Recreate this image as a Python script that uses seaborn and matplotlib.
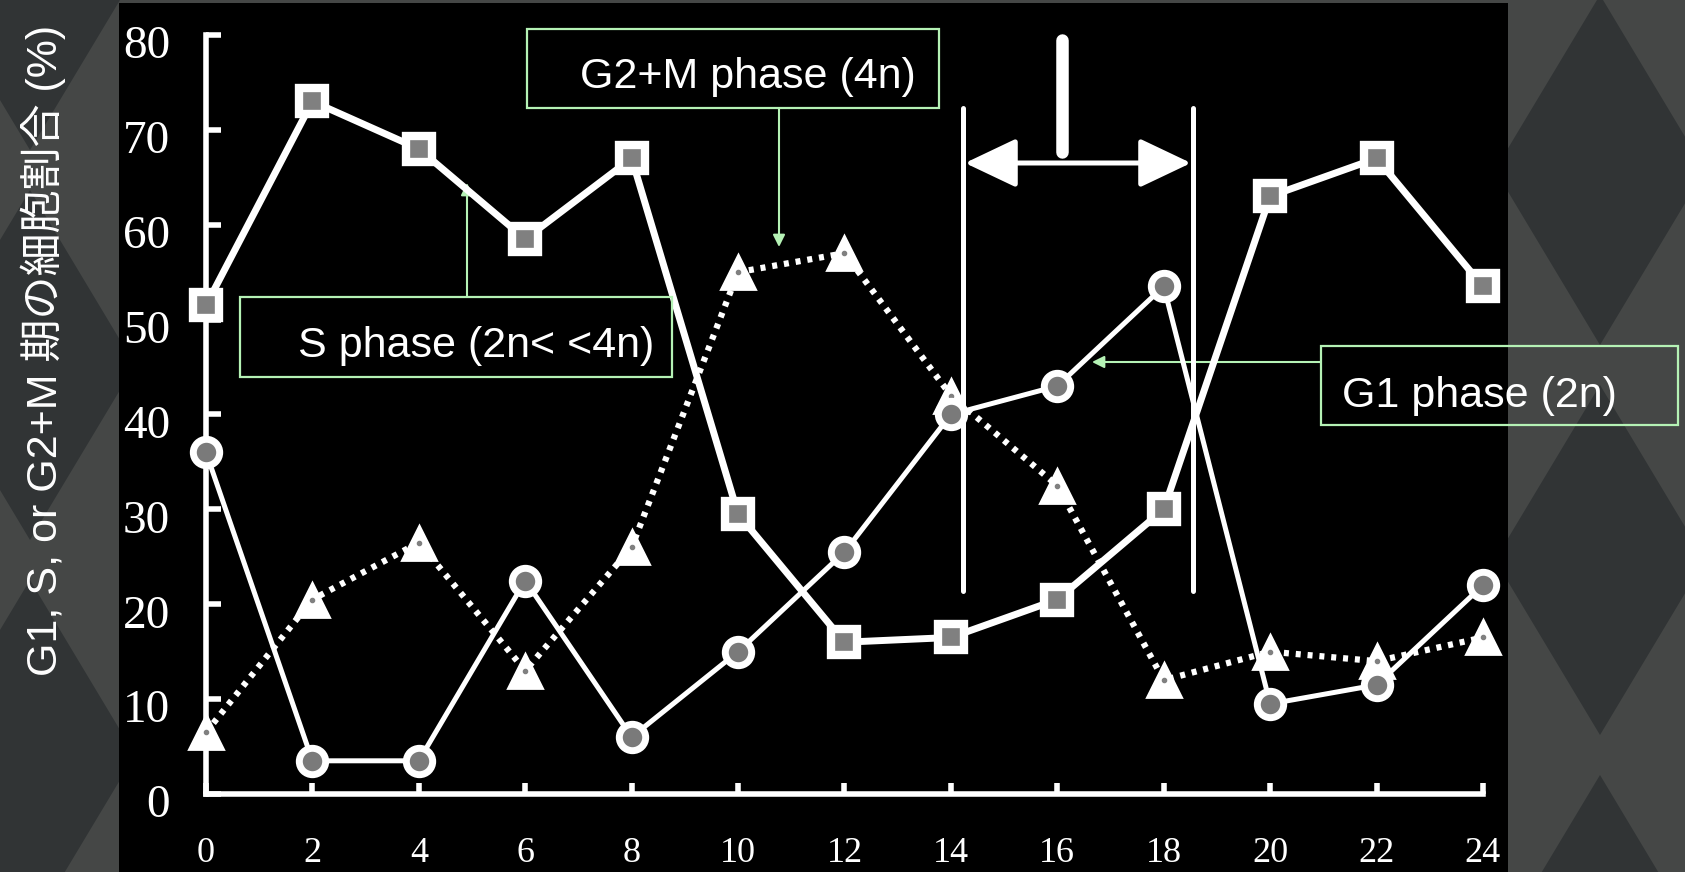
import numpy as np
import pandas as pd
import matplotlib.pyplot as plt
import matplotlib.transforms as mtransforms
from matplotlib.patches import Rectangle, Polygon
from matplotlib.lines import Line2D
import seaborn as sns

# DATA
hours = [0, 2, 4, 6, 8, 10, 12, 14, 16, 18, 20, 22, 24]
s_phase = [51.5, 73, 68, 58.5, 67, 29.5, 16, 16.5, 20.5, 30, 63, 67, 53.5]
g1_phase = [36, 3.5, 3.5, 22.5, 6, 15, 25.5, 40, 43, 53.5, 9.5, 11.5, 22]
g2m_phase = [6.5, 20.5, 26.5, 13, 26, 55, 57, 42, 32.5, 12, 15, 14, 16.5]

y_ticks = [0, 10, 20, 30, 40, 50, 60, 70, 80]
x_ticks = hours

ylabel = "G1, S, or G2+M 期の細胞割合 (%)"
label_s = "S phase (2n< <4n)"
label_g2m = "G2+M phase (4n)"
label_g1 = "G1 phase (2n)"

# STYLE
sns.set_style("dark", {"axes.facecolor": "black"})
plt.rcParams['font.family'] = ['Liberation Sans', 'Noto Sans CJK JP', 'DejaVu Sans']

W, H = 1685, 872
GREEN = '#b5f2b5'
BG = '#454746'
BG_DARK = '#313435'


def px(x, y):
    # pixel position (from top-left) -> figure fraction
    return (x / W, 1 - y / H)


fig = plt.figure(figsize=(W / 100, H / 100), dpi=100)
fig.patch.set_facecolor(BG)

# textured backdrop: dark diamonds on lighter lattice
for cx, cy in [(1600, 170), (1600, 560), (1600, 950), (30, -25), (30, 365), (30, 755)]:
    pts = [px(cx, cy - 175), px(cx + 105, cy), px(cx, cy + 175), px(cx - 105, cy)]
    fig.add_artist(Polygon(pts, closed=True, transform=fig.transFigure,
                           facecolor=BG_DARK, edgecolor='none', zorder=-10))

ax = fig.add_axes([119 / W, 0, 1389 / W, 869 / H])
ax.set_facecolor('black')

# SERIES
sns.lineplot(x=hours, y=g2m_phase, ax=ax, color='white', lw=4.5,
             linestyle=(0, (0.8, 1.1)), marker='^', markersize=24,
             markerfacecolor='white', markeredgecolor='white',
             markeredgewidth=2, zorder=3)
ax.plot(hours, g2m_phase, linestyle='none', marker='o', markersize=3,
        color='#808080', zorder=4)

sns.lineplot(x=hours, y=g1_phase, ax=ax, color='white', lw=3.6,
             marker='o', markersize=19, markerfacecolor='#7a7a7a',
             markeredgecolor='white', markeredgewidth=5, zorder=5)

sns.lineplot(x=hours, y=s_phase, ax=ax, color='white', lw=5,
             marker='s', markersize=19, markerfacecolor='#808080',
             markeredgecolor='white', markeredgewidth=6, zorder=6)

# AXES
ax.set_xlim(-1.635, 24.47)
ax.set_ylim(-8.22, 83.37)
for s in ['top', 'right']:
    ax.spines[s].set_visible(False)
ax.spines['left'].set_position(('data', 0))
ax.spines['bottom'].set_position(('data', 0))
ax.spines['left'].set_bounds(0, 80)
ax.spines['bottom'].set_bounds(0, 24)
for s in ['left', 'bottom']:
    ax.spines[s].set_color('white')
    ax.spines[s].set_linewidth(4)
    ax.spines[s].set_zorder(2)

ax.set_xticks(x_ticks)
ax.set_yticks(y_ticks)
ax.tick_params(axis='y', direction='in', length=11, width=4, color='white',
               labelcolor='white', labelsize=34, pad=26, left=True)
ax.tick_params(axis='x', direction='in', length=8, width=4, color='white',
               labelcolor='white', labelsize=26, pad=31, bottom=True)
for lab in ax.get_xticklabels() + ax.get_yticklabels():
    lab.set_fontfamily('Liberation Serif')
offset = mtransforms.ScaledTranslation(0, -7 / 100, fig.dpi_scale_trans)
for lab in ax.get_yticklabels():
    lab.set_transform(lab.get_transform() + offset)
ax.grid(False)
ax.set_xlabel("")
ax.set_ylabel("")

fig.text(*px(43, 350), ylabel, rotation=90, ha='center', va='center',
         color='white', fontsize=31)

# WHITE MARKINGS (time window)
for xx in [963, 1193]:
    x0, y0 = px(xx, 108)
    x1, y1 = px(xx, 591)
    fig.add_artist(Line2D([x0, x1], [y0, y1], color='white', lw=3.6,
                          transform=fig.transFigure))
x0, y0 = px(1062, 40)
x1, y1 = px(1062, 152)
fig.add_artist(Line2D([x0, x1], [y0, y1], color='white', lw=9,
                      transform=fig.transFigure))
ax.annotate('', xy=px(965, 163), xycoords='figure fraction',
            xytext=px(1191, 163), textcoords='figure fraction',
            arrowprops=dict(arrowstyle='<|-|>,head_length=0.8,head_width=0.38',
                            mutation_scale=40, color='white', lw=3.6,
                            shrinkA=0, shrinkB=0),
            annotation_clip=False)

# LABEL BOXES
boxes = [
    (527, 29, 939, 108, 580, 88, label_g2m),
    (240, 297, 672, 377, 298, 357, label_s),
    (1321, 346, 1678, 425, 1342, 407, label_g1),
]
for bx0, by0, bx1, by1, tx, ty, txt in boxes:
    fx, fy = px(bx0, by1)
    fig.add_artist(Rectangle((fx, fy), (bx1 - bx0) / W, (by1 - by0) / H,
                             transform=fig.transFigure, fill=False,
                             edgecolor=GREEN, lw=1.6, zorder=10))
    fig.text(*px(tx, ty), txt, ha='left', va='baseline', color='white',
             fontsize=31, zorder=11)

arrows = [
    ((779, 108), (779, 247)),
    ((467, 297), (467, 183)),
    ((1321, 362), (1092, 362)),
]
for start, end in arrows:
    ax.annotate('', xy=px(*end), xycoords='figure fraction',
                xytext=px(*start), textcoords='figure fraction',
                arrowprops=dict(arrowstyle='-|>', mutation_scale=18,
                                color=GREEN, lw=1.5, shrinkA=0, shrinkB=0),
                annotation_clip=False)

fig.savefig('out.png', dpi=100, facecolor=fig.get_facecolor())
